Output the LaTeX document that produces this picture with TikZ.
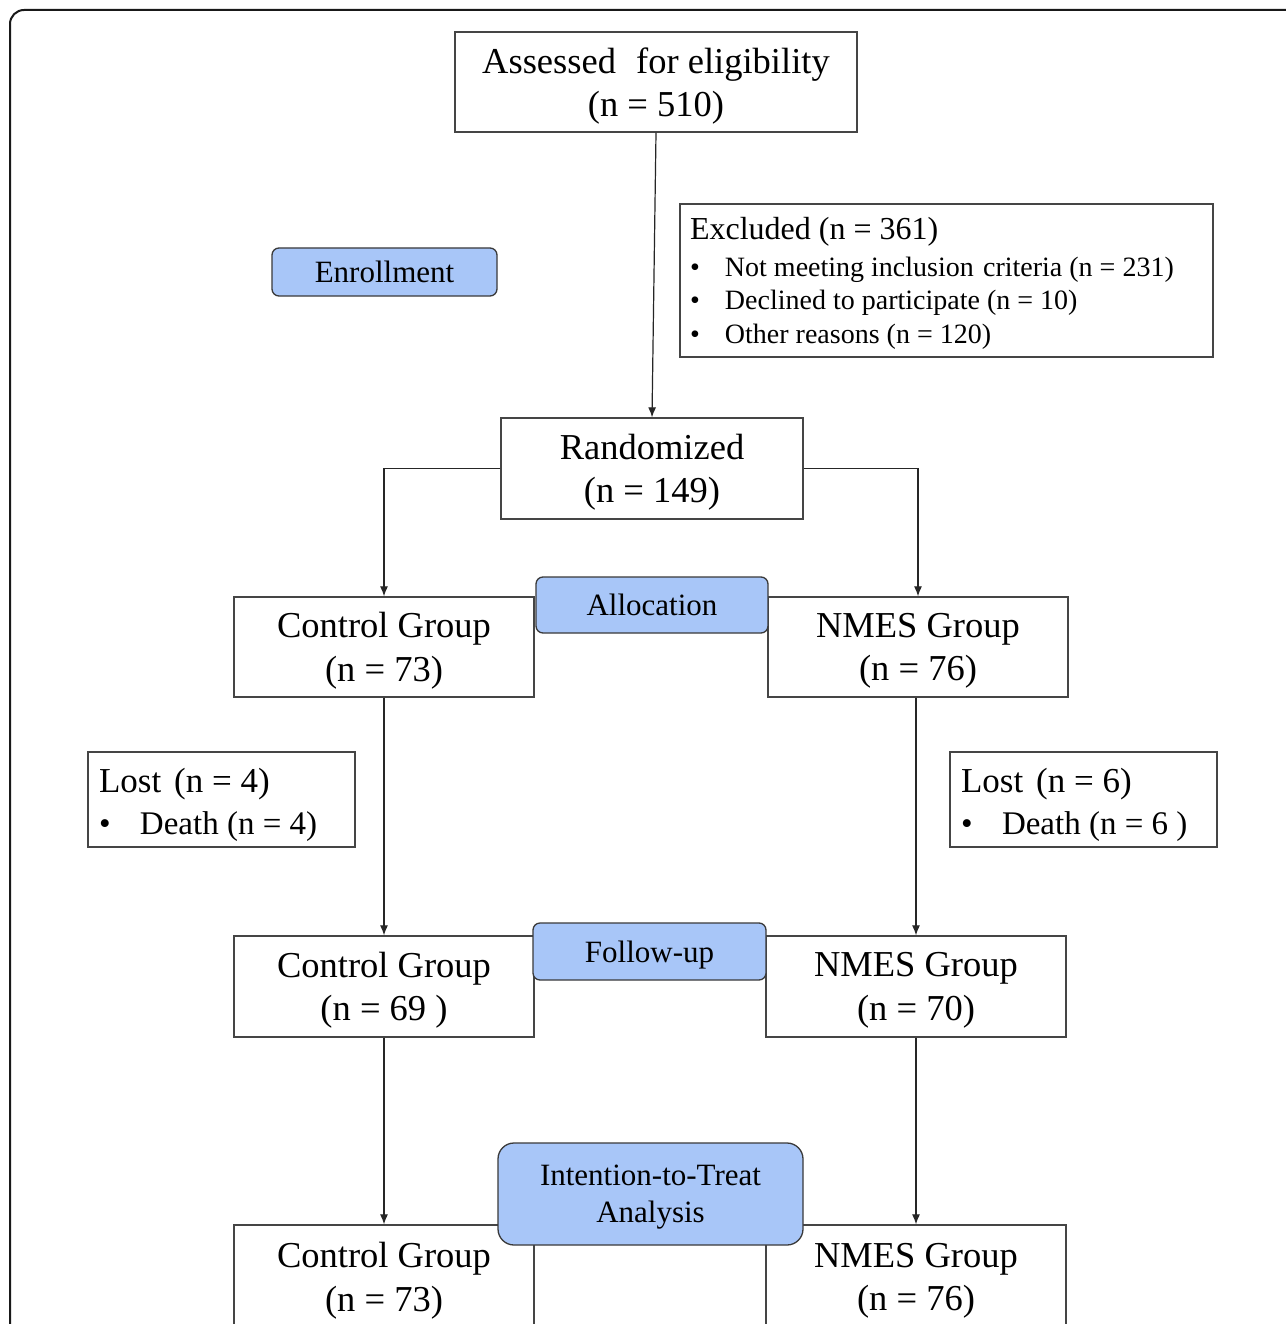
\documentclass[tikz,border=0pt]{standalone}
\usepackage{fontspec}
\setmainfont{Liberation Serif}
\usetikzlibrary{arrows.meta}
\definecolor{boxgray}{HTML}{454545}
\definecolor{phaseblue}{HTML}{A8C6F8}
\definecolor{phaseline}{HTML}{3A3A3A}
\tikzset{
  box/.style={draw=boxgray, line width=1.3pt, fill=white, inner sep=0pt, align=center,
    text depth=0pt, font=\fontsize{36.5}{43.5}\selectfont},
  phase/.style={draw=phaseline, fill=phaseblue, rounded corners=7pt, line width=1.3pt,
    inner sep=0pt, align=center, font=\fontsize{31}{37}\selectfont},
  arr/.style={draw=black!85, line width=1.2pt, -{Latex[length=10pt,width=8pt]}},
  sidebox/.style={draw=boxgray, line width=1.3pt, fill=white, inner sep=0pt}
}
\newcommand{\blt}[1]{\makebox[#1][l]{\textbullet}}
\begin{document}
\begin{tikzpicture}[x=1pt,y=-1pt]
\useasboundingbox (0,0) rectangle (1285,1324);
\fill[white] (0,0) rectangle (1285,1324);
\draw[line width=2pt, black!90, rounded corners=14pt] (10,10) rectangle (1310,1345);

% main boxes
\node[box, minimum width=402pt, minimum height=100pt] (assess) at (656,82)
  {Assessed\hspace{0.3em} for eligibility\\(n = 510)};
\node[sidebox, minimum width=533pt, minimum height=153pt] (excl) at (946.5,280.5)
  {\begin{minipage}{513pt}\vspace*{6pt}\fontsize{32}{37}\selectfont Excluded (n = 361)\par\vspace{3pt}
   \fontsize{28}{33.5}\selectfont
   \blt{35pt}Not meeting inclusion\hspace{0.08em} criteria (n = 231)\par
   \blt{35pt}Declined to participate (n = 10)\par
   \blt{35pt}Other reasons (n = 120)\par\end{minipage}};
\node[box, minimum width=302pt, minimum height=101pt] (rand) at (652,468.5)
  {Randomized\\(n = 149)};
\node[box, minimum width=300pt, minimum height=100pt] (c1) at (384,647)
  {Control Group\\(n = 73)};
\node[box, minimum width=300pt, minimum height=100pt] (n1) at (918,647)
  {NMES Group\\(n = 76)};
\node[sidebox, minimum width=267pt, minimum height=95pt] (lostl) at (221.5,799.5)
  {\begin{minipage}{245pt}\vspace*{10pt}\fontsize{35}{42}\selectfont Lost\hspace{0.37em}(n = 4)\par
   \fontsize{33}{42}\selectfont\blt{41pt}Death (n = 4)\par\end{minipage}};
\node[sidebox, minimum width=267pt, minimum height=95pt] (lostr) at (1083.5,799.5)
  {\begin{minipage}{245pt}\vspace*{10pt}\fontsize{35}{42}\selectfont Lost\hspace{0.37em}(n = 6)\par
   \fontsize{33}{42}\selectfont\blt{41pt}Death (n = 6 )\par\end{minipage}};
\node[box, minimum width=300pt, minimum height=101pt] (c2) at (384,986.5)
  {Control Group\\(n = 69 )};
\node[box, minimum width=300pt, minimum height=101pt] (n2) at (916,986.5)
  {NMES Group\\(n = 70)};
\node[box, minimum width=300pt, minimum height=104pt] (c3) at (384,1277)
  {Control Group\\(n = 73)};
\node[box, minimum width=300pt, minimum height=104pt] (n3) at (916,1277)
  {NMES Group\\(n = 76)};

% connectors
\draw[arr] (assess.south) -- (rand.north);
\draw[arr] (rand.west) -| (c1.north);
\draw[arr] (rand.east) -| (n1.north);
\draw[arr] (c1.south) -- (c2.north);
\draw[arr] (n2.north |- n1.south) -- (n2.north);
\draw[arr] (c2.south) -- (c3.north);
\draw[arr] (n2.south) -- (n3.north);

% phase labels
\node[phase, minimum width=225pt, minimum height=48pt] (enroll) at (384.5,272) {Enrollment};
\node[phase, minimum width=232pt, minimum height=56pt] (alloc) at (652,605) {Allocation};
\node[phase, text depth=0pt, minimum width=233pt, minimum height=57pt] (follow) at (649.5,951.5) {Follow-up};
\node[phase, text depth=0pt, rounded corners=16pt, minimum width=305pt, minimum height=102pt] (itt) at (650.5,1194)
  {Intention-to-Treat\\Analysis};
\end{tikzpicture}
\end{document}
